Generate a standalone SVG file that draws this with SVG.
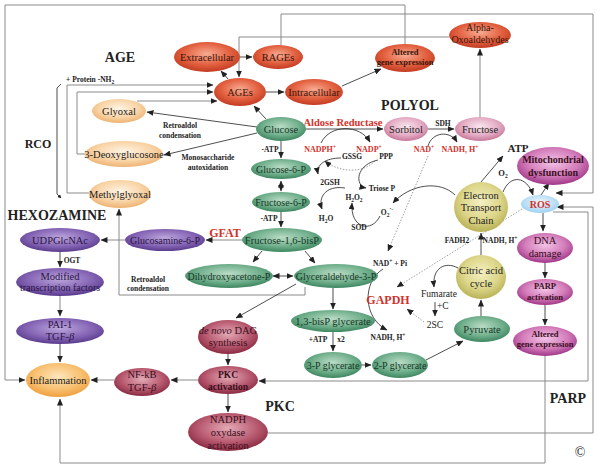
<svg xmlns="http://www.w3.org/2000/svg" width="600" height="468" viewBox="0 0 600 468">
<defs>
<radialGradient id="gRed" cx="50%" cy="40%" r="60%"><stop offset="0" stop-color="#f8ab92"/><stop offset="0.6" stop-color="#e2603f"/><stop offset="1" stop-color="#c23b22"/></radialGradient>
<radialGradient id="gPeach" cx="50%" cy="40%" r="60%"><stop offset="0" stop-color="#fff4e4"/><stop offset="0.6" stop-color="#f9d5a8"/><stop offset="1" stop-color="#eeb272"/></radialGradient>
<radialGradient id="gGreen" cx="50%" cy="40%" r="60%"><stop offset="0" stop-color="#b9dcc6"/><stop offset="0.6" stop-color="#72b08d"/><stop offset="1" stop-color="#3c8660"/></radialGradient>
<radialGradient id="gPink" cx="50%" cy="40%" r="60%"><stop offset="0" stop-color="#f9e6ef"/><stop offset="0.6" stop-color="#e5adc5"/><stop offset="1" stop-color="#c77799"/></radialGradient>
<radialGradient id="gPurple" cx="50%" cy="40%" r="60%"><stop offset="0" stop-color="#bca6dc"/><stop offset="0.6" stop-color="#8767b6"/><stop offset="1" stop-color="#5a3a8c"/></radialGradient>
<radialGradient id="gMaroon" cx="50%" cy="40%" r="60%"><stop offset="0" stop-color="#e4aab6"/><stop offset="0.6" stop-color="#b95c72"/><stop offset="1" stop-color="#8a2a42"/></radialGradient>
<radialGradient id="gOrange" cx="50%" cy="40%" r="60%"><stop offset="0" stop-color="#fee6bc"/><stop offset="0.6" stop-color="#f8c274"/><stop offset="1" stop-color="#f0a040"/></radialGradient>
<radialGradient id="gOlive" cx="50%" cy="40%" r="60%"><stop offset="0" stop-color="#f4f0c2"/><stop offset="0.6" stop-color="#ddd68a"/><stop offset="1" stop-color="#b9b257"/></radialGradient>
<radialGradient id="gMagenta" cx="50%" cy="40%" r="60%"><stop offset="0" stop-color="#f3c4e6"/><stop offset="0.6" stop-color="#d37cba"/><stop offset="1" stop-color="#a03688"/></radialGradient>
<radialGradient id="gBlue" cx="50%" cy="40%" r="60%"><stop offset="0" stop-color="#eef7fd"/><stop offset="1" stop-color="#9fd1f0"/></radialGradient>
<marker id="ar" markerWidth="7" markerHeight="6" refX="6.5" refY="3" orient="auto" markerUnits="userSpaceOnUse"><path d="M0,0 L7,3 L0,6 z" fill="#222"/></marker>
<marker id="ars" markerWidth="7" markerHeight="6" refX="0.5" refY="3" orient="auto" markerUnits="userSpaceOnUse"><path d="M7,0 L0,3 L7,6 z" fill="#222"/></marker>
<marker id="sm" markerWidth="4" markerHeight="4" refX="3.5" refY="2" orient="auto" markerUnits="userSpaceOnUse"><path d="M0,0 L4,2 L0,4 z" fill="#222"/></marker>
</defs>
<style>
text{font-family:"Liberation Serif","Times New Roman",serif;fill:#222}
.n{font-size:10.5px;text-anchor:middle}
.s{font-size:10px}
.nb{font-size:8.5px;font-weight:bold;text-anchor:middle}
.l{font-size:7.5px;font-weight:bold;text-anchor:middle}
.big{font-size:14px;font-weight:bold;text-anchor:middle}
.red{fill:#d3312b;font-weight:bold;text-anchor:middle}
.rt{fill:#3a150c}
.gt{fill:#183726}
.pt{fill:#2a1545}
.mt{fill:#3a0f1c}
.c path{fill:none;stroke:#222;stroke-width:0.8}
.c .g{stroke:#8a8a8a;stroke-width:1}
.c .d{stroke:#888;stroke-dasharray:1.5 1.5}
</style>
<rect width="600" height="468" fill="#fff"/>

<g class="c" id="connectors">
<path class="g" d="M405 44 V5 H5 V380 H25" marker-end="url(#ar)"/>
<path class="g" d="M281 45 V14 H593 V193 H556" marker-end="url(#ar)"/>
<path class="g" d="M449 37 H239 V77" marker-end="url(#ar)"/>
<path class="g" d="M89 193 H67 V85 H213" marker-end="url(#ar)"/>
<path class="g" d="M85 154 H77 V92 H213" marker-end="url(#ar)"/>
<path class="g" d="M137 101 H217" marker-end="url(#ar)"/>
<path class="g" d="M305 287 V295 H119 V209" marker-end="url(#ar)"/>
<path class="g" d="M553 212 H588 V381 H259" marker-end="url(#ar)"/>
<path class="g" d="M268 433 H593 V207 H557" marker-end="url(#ar)"/>
<path class="g" d="M545 356 V463 H60 V399" marker-end="url(#ar)"/>
<path d="M61 84 L57 88 V194 L61 198" marker-end="url(#sm)"/>
<path d="M240 57 H252" marker-end="url(#ar)"/>
<path d="M228 79 L221 71" marker-end="url(#ar)"/>
<path d="M266 92 H284" marker-end="url(#ar)"/>
<path d="M342 86 L381 69" marker-end="url(#ar)"/>
<path d="M266 119 L254 106" marker-end="url(#ar)"/>
<path d="M257 127 L147 112" marker-end="url(#ar)"/>
<path d="M257 133 L164 155" marker-end="url(#ar)"/>
<path d="M306 129 H383" marker-end="url(#ar)"/>
<path d="M428 129 H454" marker-end="url(#ar)"/>
<path class="g" d="M480 117 V49" marker-end="url(#ar)"/>
<path d="M428 146 C432 132 450 130 457 142" marker-end="url(#ar)"/>
<path d="M321 143 C330 124 360 124 370 142" marker-end="url(#ar)"/>
<path d="M281 141 V158" marker-end="url(#ar)"/>
<path d="M281 181 V191" marker-start="url(#ars)" marker-end="url(#ar)"/>
<path d="M281 212 V227" marker-end="url(#ar)"/>
<path class="g" d="M242 240 H206" marker-end="url(#ar)"/>
<path class="g" d="M125 240 H101" marker-end="url(#ar)"/>
<path d="M60 252 V267" marker-end="url(#ar)"/>
<path class="g" d="M60 296 V316" marker-end="url(#ar)"/>
<path d="M60 343 V362" marker-end="url(#ar)"/>
<path class="g" d="M114 380 H91" marker-end="url(#ar)"/>
<path class="g" d="M198 380 H171" marker-end="url(#ar)"/>
<path d="M228 354 V365" marker-end="url(#ar)"/>
<path d="M228 394 V412" marker-end="url(#ar)"/>
<path d="M296 284 L236 318" marker-end="url(#ar)"/>
<path d="M262 251 L253 262" marker-end="url(#ar)"/>
<path d="M305 251 L315 263" marker-end="url(#ar)"/>
<path d="M273 276 H293" marker-start="url(#ars)" marker-end="url(#ar)"/>
<path d="M333 288 V309" marker-end="url(#ar)"/>
<path d="M333 332 V351" marker-end="url(#ar)"/>
<path d="M362 365 H371" marker-end="url(#ar)"/>
<path d="M426 360 L463 341" marker-end="url(#ar)"/>
<path d="M481 316 V300" marker-end="url(#ar)"/>
<path d="M481 255 V233" marker-end="url(#ar)"/>
<path d="M481 182 L503 156" marker-end="url(#ar)"/>
<path d="M503 192 C510 174 527 176 533 195" marker-end="url(#ar)"/>
<path d="M455 195 C440 180 410 184 393 203" marker-end="url(#ar)"/>
<path d="M541 195 L549 183" marker-end="url(#ar)"/>
<path d="M543 213 V231" marker-end="url(#ar)"/>
<path d="M545 263 V278" marker-end="url(#ar)"/>
<path d="M545 305 V325" marker-end="url(#ar)"/>
<path d="M458 268 C445 261 432 268 434 287" marker-end="url(#ar)"/>
<path d="M435 302 V316" marker-end="url(#ar)"/>
<path class="d" d="M424 322 L407 309" marker-end="url(#ar)"/>
<path d="M383 269 C362 282 363 318 387 330" marker-end="url(#ar)"/>
<path class="d" d="M428 156 L388 251" marker-end="url(#ar)"/>
<path class="d" d="M522 209 L397 287" marker-end="url(#ar)"/>
<path d="M341 158 C325 158 316 165 318 174" marker-end="url(#ar)"/>
<path class="d" d="M375 161 C360 176 335 170 325 161" marker-end="url(#ar)"/>
<path d="M378 160 C355 165 355 186 366 188" marker-end="url(#ar)"/>
<path d="M345 188 C325 185 318 198 322 209" marker-end="url(#ar)"/>
<path d="M380 216 C372 233 350 229 352 203" marker-end="url(#ar)"/>
</g>

<g id="labels">
<text class="big" x="120" y="62">AGE</text>
<text class="big" x="410" y="110">POLYOL</text>
<text class="big" x="57" y="220">HEXOZAMINE</text>
<text class="big" x="38" y="148" style="font-size:12px">RCO</text>
<text class="big" x="280" y="411">PKC</text>
<text class="big" x="568" y="403">PARP</text>
<text class="big" x="518" y="152" style="font-size:11px">ATP</text>
<text x="580" y="457" style="font-size:14px;text-anchor:middle">©</text>
<text class="red" x="343" y="126" style="font-size:10.5px">Aldose Reductase</text>
<text class="red" x="225" y="237" style="font-size:12px">GFAT</text>
<text class="red" x="388" y="304" style="font-size:12px">GAPDH</text>
<text class="red" x="320" y="152" style="font-size:8px">NADPH<tspan dy="-3" style="font-size:5.5px">+</tspan></text>
<text class="red" x="369" y="152" style="font-size:8px">NADP<tspan dy="-3" style="font-size:5.5px">+</tspan></text>
<text class="red" x="424" y="152" style="font-size:8px">NAD<tspan dy="-3" style="font-size:5.5px">+</tspan></text>
<text class="red" x="460" y="152" style="font-size:8px">NADH, H<tspan dy="-3" style="font-size:5.5px">+</tspan></text>
<text class="l" x="443" y="126">SDH</text>
<text class="l" x="270" y="152">-ATP</text>
<text class="l" x="269" y="221">-ATP</text>
<text class="l" x="352" y="159">GSSG</text>
<text class="l" x="386" y="159">PPP</text>
<text class="l" x="330" y="185">2GSH</text>
<text class="l" x="382" y="191">Triose P</text>
<text class="l" x="354" y="200">H<tspan dy="2" style="font-size:5.5px">2</tspan><tspan dy="-2">O</tspan><tspan dy="2" style="font-size:5.5px">2</tspan></text>
<text class="l" x="387" y="215">O<tspan dy="2" style="font-size:5.5px">2</tspan><tspan dy="-6" style="font-size:5.5px">·-</tspan></text>
<text class="l" x="326" y="221">H<tspan dy="2" style="font-size:5.5px">2</tspan><tspan dy="-2">O</tspan></text>
<text class="l" x="359" y="230">SOD</text>
<text class="l" x="390" y="266">NAD<tspan dy="-3" style="font-size:5.5px">+</tspan><tspan dy="3"> + Pi</tspan></text>
<text class="l" x="388" y="340">NADH, H<tspan dy="-3" style="font-size:5.5px">+</tspan></text>
<text class="l" x="318" y="342">+ATP</text>
<text class="l" x="341" y="342">x2</text>
<text class="l" x="457" y="243">FADH2</text>
<text class="l" x="500" y="243">NADH, H<tspan dy="-3" style="font-size:5.5px">+</tspan></text>
<text class="l" x="503" y="176" style="font-size:8.5px">O<tspan dy="2" style="font-size:5.5px">2</tspan></text>
<text x="439" y="297" style="font-size:9.5px;text-anchor:middle">Fumarate</text>
<text x="437" y="309" style="font-size:9.5px">+C</text>
<text x="435" y="328" style="font-size:9.5px;text-anchor:middle">2SC</text>
<text class="l" x="72" y="263">OGT</text>
<text class="l" x="148" y="282">Retroaldol</text>
<text class="l" x="148" y="291">condensation</text>
<text class="l" x="180" y="128">Retroaldol</text>
<text class="l" x="180" y="138">condensation</text>
<text class="l" x="208" y="160">Monosaccharide</text>
<text class="l" x="208" y="170">autoxidation</text>
<text class="l" x="66" y="82" style="text-anchor:start">+ Protein -NH<tspan dy="2" style="font-size:5.5px">2</tspan></text>
</g>

<g id="extracellular"><ellipse cx="207" cy="57" rx="33" ry="15" fill="url(#gRed)"/><text class="n rt" x="207" y="61">Extracellular</text></g>
<g id="rages"><ellipse cx="278" cy="57" rx="25" ry="12" fill="url(#gRed)"/><text class="n rt" x="278" y="61">RAGEs</text></g>
<g id="ages"><ellipse cx="240" cy="92" rx="26" ry="14" fill="url(#gRed)"/><text class="n rt" x="240" y="96">AGEs</text></g>
<g id="intracellular"><ellipse cx="314" cy="92" rx="29" ry="13" fill="url(#gRed)"/><text class="n rt" x="314" y="96">Intracellular</text></g>
<g id="altered-age"><ellipse cx="405" cy="58" rx="30" ry="14" fill="url(#gRed)"/><text class="nb rt" x="405" y="55">Altered</text><text class="nb rt" x="405" y="65">gene expression</text></g>
<g id="alpha"><ellipse cx="480" cy="35" rx="31" ry="13" fill="url(#gRed)"/><text class="n rt s" x="480" y="31">Alpha-</text><text class="n rt s" x="480" y="43">Oxoaldehydes</text></g>

<g id="glyoxal"><ellipse cx="119" cy="111" rx="27" ry="12" fill="url(#gPeach)"/><text class="n" x="119" y="115">Glyoxal</text></g>
<g id="deoxyglucosone"><ellipse cx="124" cy="154" rx="39" ry="13" fill="url(#gPeach)"/><text class="n" x="124" y="158">3-Deoxyglucosone</text></g>
<g id="methylglyoxal"><ellipse cx="120" cy="194" rx="31" ry="14" fill="url(#gPeach)"/><text class="n" x="120" y="198">Methylglyoxal</text></g>

<g id="glucose"><ellipse cx="281" cy="129" rx="25" ry="12" fill="url(#gGreen)"/><text class="n gt" x="281" y="133">Glucose</text></g>
<g id="g6p"><ellipse cx="281" cy="169" rx="30" ry="10" fill="url(#gGreen)"/><text class="n gt s" x="281" y="173">Glucose-6-P</text></g>
<g id="f6p"><ellipse cx="281" cy="202" rx="29" ry="10" fill="url(#gGreen)"/><text class="n gt s" x="281" y="206">Fructose-6-P</text></g>
<g id="f16bp"><ellipse cx="282" cy="240" rx="40" ry="12" fill="url(#gGreen)"/><text class="n gt" x="282" y="244">Fructose-1,6-bisP</text></g>
<g id="dhap"><ellipse cx="229" cy="276" rx="44" ry="12" fill="url(#gGreen)"/><text class="n gt s" x="229" y="280">Dihydroxyacetone-P</text></g>
<g id="g3p"><ellipse cx="336" cy="276" rx="42" ry="12" fill="url(#gGreen)"/><text class="n gt s" x="336" y="280">Glyceraldehyde-3-P</text></g>
<g id="bpg13"><ellipse cx="333" cy="321" rx="42" ry="11" fill="url(#gGreen)"/><text class="n gt" x="333" y="325">1,3-bisP glycerate</text></g>
<g id="pg3"><ellipse cx="333" cy="365" rx="29" ry="13" fill="url(#gGreen)"/><text class="n gt s" x="333" y="369">3-P glycerate</text></g>
<g id="pg2"><ellipse cx="400" cy="365" rx="28" ry="13" fill="url(#gGreen)"/><text class="n gt s" x="400" y="369">2-P glycerate</text></g>
<g id="pyruvate"><ellipse cx="482" cy="329" rx="28" ry="13" fill="url(#gGreen)"/><text class="n gt" x="482" y="333">Pyruvate</text></g>

<g id="sorbitol"><ellipse cx="406" cy="129" rx="22" ry="12" fill="url(#gPink)"/><text class="n" x="406" y="133">Sorbitol</text></g>
<g id="fructose"><ellipse cx="480" cy="129" rx="25" ry="12" fill="url(#gPink)"/><text class="n" x="480" y="133">Fructose</text></g>

<g id="udpglcnac"><ellipse cx="60" cy="240" rx="40" ry="12" fill="url(#gPurple)"/><text class="n pt" x="60" y="244">UDPGlcNAc</text></g>
<g id="glucosamine"><ellipse cx="165" cy="240" rx="40" ry="11" fill="url(#gPurple)"/><text class="n pt s" x="165" y="244">Glucosamine-6-P</text></g>
<g id="modified"><ellipse cx="60" cy="282" rx="44" ry="14" fill="url(#gPurple)"/><text class="n pt" x="60" y="280">Modified</text><text class="n pt s" x="60" y="291">transcription factors</text></g>
<g id="pai1"><ellipse cx="60" cy="331" rx="44" ry="13" fill="url(#gPurple)"/><text class="n pt" x="60" y="328">PAI-1</text><text class="n pt" x="60" y="340">TGF-<tspan font-style="italic">β</tspan></text></g>

<g id="inflammation"><ellipse cx="58" cy="380" rx="32" ry="17" fill="url(#gOrange)"/><text class="n" x="58" y="384">Inflammation</text></g>
<g id="nfkb"><ellipse cx="142" cy="382" rx="28" ry="14" fill="url(#gMaroon)"/><text class="n mt" x="142" y="378">NF-kB</text><text class="n mt" x="142" y="391">TGF-<tspan font-style="italic">β</tspan></text></g>
<g id="dag"><ellipse cx="228" cy="337" rx="30" ry="17" fill="url(#gMaroon)"/><text class="n mt" x="228" y="334"><tspan font-style="italic">de novo</tspan> DAG</text><text class="n mt" x="228" y="346">synthesis</text></g>
<g id="pkc"><ellipse cx="228" cy="380" rx="30" ry="14" fill="url(#gMaroon)"/><text class="nb mt" x="228" y="378" style="font-size:9.5px">PKC</text><text class="nb mt" x="228" y="390" style="font-size:9.5px">activation</text></g>
<g id="nadph-oxidase"><ellipse cx="228" cy="432" rx="40" ry="19" fill="url(#gMaroon)"/><text class="n mt" x="228" y="423">NADPH</text><text class="n mt" x="228" y="436">oxydase</text><text class="n mt" x="228" y="449">activation</text></g>

<g id="etc"><ellipse cx="481" cy="207" rx="27" ry="25" fill="url(#gOlive)"/><text class="n" x="481" y="199">Electron</text><text class="n" x="481" y="211">Transport</text><text class="n" x="481" y="224">Chain</text></g>
<g id="citric"><ellipse cx="481" cy="277" rx="25" ry="22" fill="url(#gOlive)"/><text class="n" x="481" y="274">Citric acid</text><text class="n" x="481" y="287">cycle</text></g>

<g id="mito"><ellipse cx="553" cy="166" rx="36" ry="19" fill="url(#gMagenta)"/><text class="nb mt" x="553" y="163" style="font-size:10px">Mitochondrial</text><text class="nb mt" x="553" y="176" style="font-size:10px">dysfunction</text></g>
<g id="ros"><ellipse cx="540" cy="204" rx="19" ry="9" fill="url(#gBlue)"/><text class="red" x="540" y="208" style="font-size:10px">ROS</text></g>
<g id="dna"><ellipse cx="545" cy="248" rx="28" ry="15" fill="url(#gMagenta)"/><text class="n mt" x="545" y="244">DNA</text><text class="n mt" x="545" y="257">damage</text></g>
<g id="parp"><ellipse cx="545" cy="292" rx="28" ry="13" fill="url(#gMagenta)"/><text class="nb mt" x="545" y="289">PARP</text><text class="nb mt" x="545" y="300">activation</text></g>
<g id="altered-parp"><ellipse cx="545" cy="341" rx="32" ry="15" fill="url(#gMagenta)"/><text class="nb mt" x="545" y="337">Altered</text><text class="nb mt" x="545" y="347">gene expression</text></g>
</svg>
